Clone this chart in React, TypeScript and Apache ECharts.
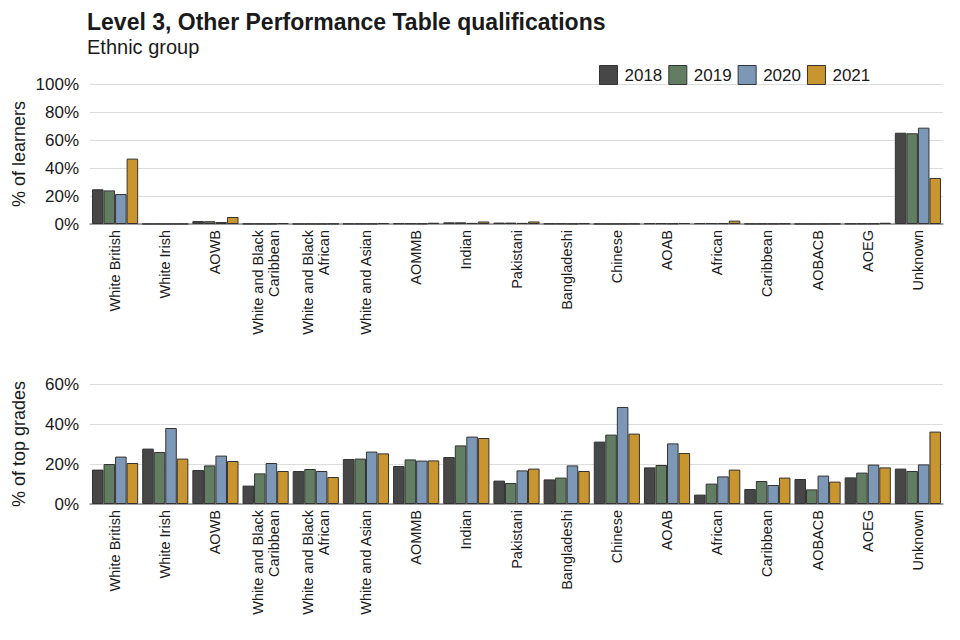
import React, { useEffect, useRef } from "react";
import * as echarts from "echarts";

const categories = [
  "White British",
  "White Irish",
  "AOWB",
  "White and Black\nCaribbean",
  "White and Black\nAfrican",
  "White and Asian",
  "AOMMB",
  "Indian",
  "Pakistani",
  "Bangladeshi",
  "Chinese",
  "AOAB",
  "African",
  "Caribbean",
  "AOBACB",
  "AOEG",
  "Unknown",
];

const years = ["2018", "2019", "2020", "2021"];
const colors = ["#474747", "#627d62", "#7c98b6", "#c9952f"];

// % of learners
const learners2018 = [24.8, 0.1, 2.1, 0.2, 0.1, 0.2, 0.4, 1.2, 1.0, 0.3, 0.1, 0.5, 0.6, 0.2, 0.1, 0.3, 65.2];
const learners2019 = [24.0, 0.1, 2.0, 0.2, 0.1, 0.2, 0.4, 1.2, 1.0, 0.3, 0.1, 0.5, 0.6, 0.2, 0.1, 0.3, 64.8];
const learners2020 = [21.4, 0.1, 1.4, 0.2, 0.1, 0.2, 0.3, 0.8, 0.8, 0.2, 0.1, 0.4, 0.6, 0.2, 0.1, 0.3, 68.8];
const learners2021 = [46.7, 0.1, 5.0, 0.6, 0.2, 0.6, 0.9, 1.8, 1.8, 0.5, 0.2, 0.7, 2.4, 0.3, 0.2, 0.9, 32.9];

// % of top grades
const top2018 = [17.2, 27.7, 17.0, 9.2, 16.5, 22.5, 19.0, 23.5, 11.7, 12.3, 31.2, 18.3, 4.7, 7.5, 12.5, 13.3, 17.7];
const top2019 = [20.0, 26.0, 19.3, 15.3, 17.5, 22.7, 22.3, 29.3, 10.5, 13.2, 34.7, 19.5, 10.2, 11.5, 7.3, 15.7, 16.5];
const top2020 = [23.7, 38.0, 24.2, 20.5, 16.5, 26.2, 21.7, 33.7, 16.8, 19.3, 48.5, 30.3, 13.8, 9.5, 14.2, 19.7, 19.8];
const top2021 = [20.5, 22.7, 21.5, 16.5, 13.5, 25.3, 21.8, 33.0, 17.7, 16.5, 35.2, 25.5, 17.2, 13.2, 11.2, 18.3, 36.2];

const learnersData = [learners2018, learners2019, learners2020, learners2021];
const topData = [top2018, top2019, top2020, top2021];

const FONT = "Liberation Sans, Arial, sans-serif";

export default function App() {
  const ref = useRef<HTMLDivElement>(null);

  useEffect(() => {
    if (!ref.current) return;
    const chart = echarts.init(ref.current, undefined, { renderer: "svg" });

    const xAxisCommon = (gridIndex: number) => ({
      type: "category" as const,
      gridIndex,
      data: categories,
      axisLine: { show: true, lineStyle: { color: "#8c8c8c", width: 1.5 } },
      axisTick: { show: false },
      axisLabel: {
        rotate: 90,
        interval: 0,
        color: "#1a1a1a",
        fontSize: 14.5,
        fontFamily: FONT,
        lineHeight: 16,
        margin: 6,
      },
    });

    const yAxisCommon = (gridIndex: number, name: string, max: number) => ({
      type: "value" as const,
      gridIndex,
      min: 0,
      max,
      interval: 20,
      name,
      nameLocation: "middle" as const,
      nameGap: 62,
      nameMoveOverlap: false,
      nameTextStyle: { color: "#1a1a1a", fontSize: 18, fontFamily: FONT },
      axisLine: { show: false },
      axisTick: { show: false },
      axisLabel: {
        formatter: "{value}%",
        color: "#1a1a1a",
        fontSize: 17,
        fontFamily: FONT,
        margin: 11,
      },
      splitLine: { show: true, lineStyle: { color: "#dcdcdc", width: 1 } },
    });

    const series: any[] = [];
    years.forEach((y, i) => {
      series.push({
        name: y,
        type: "bar",
        xAxisIndex: 0,
        yAxisIndex: 0,
        data: learnersData[i],
        barGap: "0%",
        barCategoryGap: "8%",
        itemStyle: { color: colors[i], borderColor: "#333333", borderWidth: 1 },
      });
    });
    years.forEach((y, i) => {
      series.push({
        name: y,
        type: "bar",
        xAxisIndex: 1,
        yAxisIndex: 1,
        data: topData[i],
        barGap: "0%",
        barCategoryGap: "8%",
        itemStyle: { color: colors[i], borderColor: "#333333", borderWidth: 1 },
      });
    });

    chart.setOption({
      animation: false,
      backgroundColor: "#ffffff",
      title: [
        {
          text: "Level 3, Other Performance Table qualifications",
          left: 74,
          top: -3,
          textStyle: { fontSize: 23, fontWeight: "bold", color: "#1a1a1a", fontFamily: FONT },
        },
        {
          text: "Ethnic group",
          left: 74,
          top: 24,
          textStyle: { fontSize: 20, fontWeight: "normal", color: "#1a1a1a", fontFamily: FONT },
        },
      ],
      legend: {
        data: years,
        left: 586,
        top: 52,
        itemWidth: 18,
        itemHeight: 19,
        itemGap: 6,
        icon: "rect",
        textStyle: { fontSize: 17, color: "#1a1a1a", fontFamily: FONT, padding: [0, 0, 0, 2] },
        itemStyle: { borderColor: "#333333", borderWidth: 1 },
      },
      grid: [
        { left: 82, right: 9, top: 76, height: 140, containLabel: false, outerBoundsMode: "none" },
        { left: 82, right: 9, top: 376, height: 120, containLabel: false, outerBoundsMode: "none" },
      ],
      xAxis: [xAxisCommon(0), xAxisCommon(1)],
      yAxis: [yAxisCommon(0, "% of learners", 100), yAxisCommon(1, "% of top grades", 60)],
      series,
    });

    return () => chart.dispose();
  }, []);

  return <div ref={ref} style={{ width: 944, height: 624 }} />;
}
